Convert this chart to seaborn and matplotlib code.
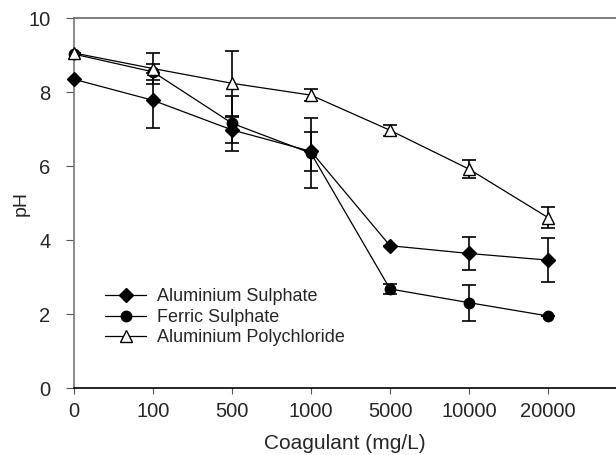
import numpy as np
import pandas as pd
import seaborn as sns
from matplotlib import pyplot as plt

doses = ['0', '100', '500', '1000', '5000', '10000', '20000']

al_sulphate = [8.35, 7.78, 6.98, 6.40, 3.85, 3.64, 3.46]
al_sulphate_err = [0.0, 0.75, 0.35, 0.52, 0.0, 0.45, 0.59]

ferric_sulphate = [9.03, 8.55, 7.16, 6.35, 2.68, 2.31, 1.95]
ferric_sulphate_err = [0.0, 0.21, 0.75, 0.95, 0.13, 0.49, 0.0]

al_polychloride = [9.06, 8.64, 8.24, 7.92, 6.97, 5.92, 4.61]
al_polychloride_err = [0.0, 0.42, 0.88, 0.16, 0.15, 0.24, 0.29]

series = {
    'Aluminium Sulphate': (al_sulphate, al_sulphate_err, 'D', 'black', 7),
    'Ferric Sulphate': (ferric_sulphate, ferric_sulphate_err, 'o', 'black', 7.5),
    'Aluminium Polychloride': (al_polychloride, al_polychloride_err, '^', 'white', 8),
}

sns.set_style('ticks')
plt.rcParams['font.family'] = ['Liberation Sans', 'DejaVu Sans']

fig = plt.figure(figsize=(6.16, 4.55), dpi=100)
ax = fig.add_axes([0.12, 0.147, 0.88, 0.813])

pos = np.arange(len(doses))
for name, (vals, errs, marker, face, ms) in series.items():
    df = pd.DataFrame({'pos': pos, 'pH': vals})
    ax.errorbar(df['pos'], df['pH'], yerr=errs, fmt='none', ecolor='black',
                elinewidth=1.2, capsize=5, capthick=1.2, zorder=2)
    sns.lineplot(data=df, x='pos', y='pH', ax=ax, color='black', linewidth=0.9,
                 marker=marker, markersize=ms, markerfacecolor=face,
                 markeredgecolor='black', markeredgewidth=1.0, label=name,
                 zorder=3, clip_on=False)

ax.set_xlim(0, 6.86)
ax.set_ylim(0, 10)
ax.set_xticks(pos)
ax.set_xticklabels(doses)
ax.set_yticks([0, 2, 4, 6, 8, 10])
ax.set_xlabel('Coagulant (mg/L)', fontsize=15, va='center')
ax.set_ylabel('pH', fontsize=14, va='center')
ax.xaxis.set_label_coords(0.5, -0.151)
ax.yaxis.set_label_coords(-0.098, 0.5)
ax.tick_params(axis='both', labelsize=14.5, direction='out', color='#555555')
ax.tick_params(axis='y', length=6, pad=11)
ax.tick_params(axis='x', length=4, pad=6)

ax.spines['right'].set_visible(False)
ax.spines['left'].set_color('#777777')
ax.spines['top'].set_color('#666666')
ax.spines['bottom'].set_color('black')
for s in ax.spines.values():
    s.set_linewidth(1.2)

ax.legend(loc='upper left', bbox_to_anchor=(0.057, 0.27), frameon=False,
          borderaxespad=0, borderpad=0, fontsize=13, handlelength=2.3,
          handletextpad=0.6, labelspacing=0.2)

fig.savefig('out.png', dpi=100)
